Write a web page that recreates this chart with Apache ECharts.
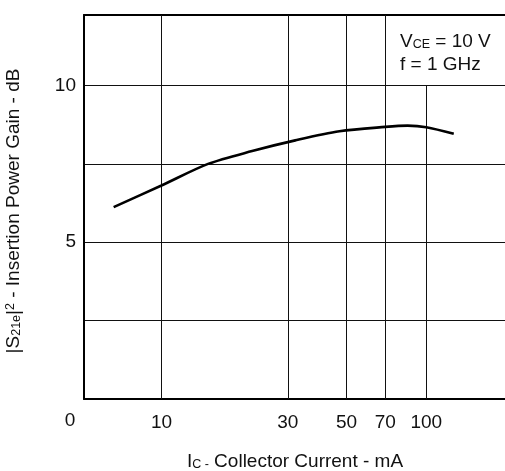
<!DOCTYPE html>
<html><head><meta charset="utf-8">
<script src="https://cdn.jsdelivr.net/npm/echarts@6/dist/echarts.min.js"></script>
<style>html,body{margin:0;padding:0;background:#fff}#c{width:505px;height:471px}</style>
</head><body><div id="c"></div>
<script>
// ---- data ----
const current = [6.6, 10, 15, 22, 32, 47, 70, 85, 100, 127];
const gain    = [6.12, 6.81, 7.5, 7.91, 8.25, 8.54, 8.68, 8.72, 8.67, 8.46];
const xTickValues = [10, 30, 50, 70, 100];
const yTickLabels = [5, 10];
const originLabel = '0';
const xMin = 5.1, xMax = 200, yMin = 0, yMax = 12.25, yStep = 2.5;
const noteBoxX = 70, noteBoxY = 10;
const noteLine1 = 'V{s|CE} = 10 V';
const noteLine2 = 'f = 1 GHz';
const xName = 'I{s|C -} Collector Current - mA';
const yName = '|S{sub|21e}|{sup|2} - Insertion Power Gain - dB';

const FONT = 'Liberation Sans, Arial, sans-serif';
const FS = 19, FSS = 12.5;
const chart = echarts.init(document.getElementById('c'), null, {renderer: 'canvas'});

const gridLines = xTickValues.map(v => [
  {coord: [v, yMin]},
  {coord: [v, v > noteBoxX ? noteBoxY : yMax]}
]);

chart.setOption({
  animation: false,
  backgroundColor: '#fff',
  grid: {left: 84, top: 15, width: 422, height: 384, containLabel: false, outerBoundsMode: 'none'},
  xAxis: [{
    type: 'log', logBase: 10, min: xMin, max: xMax,
    axisLine: {show: true, lineStyle: {color: '#000', width: 2}},
    axisTick: {show: false},
    splitLine: {show: false},
    minorSplitLine: {show: false},
    axisLabel: {customValues: xTickValues, margin: 14, fontSize: FS, color: '#111', fontFamily: FONT},
    name: xName, nameLocation: 'middle', nameGap: 53,
    nameTextStyle: {fontSize: FS, color: '#111', fontFamily: FONT,
      rich: {s: {fontSize: FSS, color: '#111', fontFamily: FONT, verticalAlign: 'bottom'}}}
  }, {
    type: 'log', logBase: 10, min: xMin, max: xMax, position: 'top',
    axisLine: {show: true, lineStyle: {color: '#000', width: 2}},
    axisTick: {show: false}, axisLabel: {show: false}, splitLine: {show: false}
  }],
  yAxis: {
    type: 'value', min: yMin, max: yMax, interval: yStep,
    axisLine: {show: true, lineStyle: {color: '#000', width: 2}},
    axisTick: {show: false},
    splitLine: {show: true, lineStyle: {color: '#111', width: 1}},
    axisLabel: {margin: 8, fontSize: FS, color: '#111', fontFamily: FONT,
      formatter: v => yTickLabels.includes(v) ? String(v) : ''}
  },
  series: [{
    type: 'line', data: [], silent: true, z: 1,
    markLine: {silent: true, symbol: ['none', 'none'], animation: false,
      label: {show: false},
      lineStyle: {color: '#111', width: 1, type: 'solid'},
      data: gridLines}
  }, {
    type: 'line', smooth: 0.3, showSymbol: false, z: 5,
    lineStyle: {color: '#000', width: 2.6},
    data: current.map((c, i) => [c, gain[i]])
  }],
  graphic: [
    {type: 'text', x: 70, y: 421, style: {text: originLabel, fontSize: FS, fill: '#111', fontFamily: FONT, align: 'center', verticalAlign: 'middle'}},
    {type: 'text', x: 400, y: 42, style: {text: noteLine1, fontSize: FS, fill: '#111', fontFamily: FONT, align: 'left', verticalAlign: 'middle',
      rich: {s: {fontSize: FSS, fill: '#111', fontFamily: FONT, verticalAlign: 'bottom'}}}},
    {type: 'text', x: 400, y: 65, style: {text: noteLine2, fontSize: FS, fill: '#111', fontFamily: FONT, align: 'left', verticalAlign: 'middle'}},
    {type: 'text', x: 14, y: 211, rotation: Math.PI / 2,
      style: {text: yName, fontSize: FS, fill: '#111', fontFamily: FONT, align: 'center', verticalAlign: 'middle',
        rich: {
          sub: {fontSize: FSS, fill: '#111', fontFamily: FONT, verticalAlign: 'bottom'},
          sup: {fontSize: FSS, fill: '#111', fontFamily: FONT, verticalAlign: 'top'}
        }}}
  ]
});
</script></body></html>
